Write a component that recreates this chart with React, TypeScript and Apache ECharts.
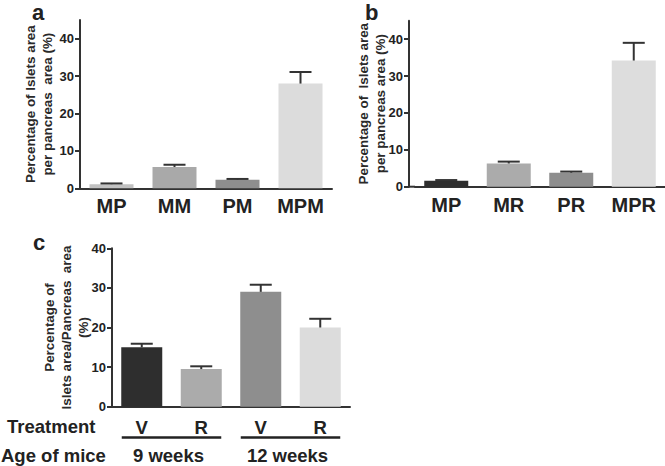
import React, { useEffect, useRef } from "react";
import * as echarts from "echarts";

const catsA = ["MP", "MM", "PM", "MPM"];
const valsA = [1.1, 5.7, 2.3, 28.0];
const errsA = [0.2, 0.6, 0.2, 3.1];

const catsB = ["MP", "MR", "PR", "MPR"];
const valsB = [1.6, 6.3, 3.8, 34.2];
const errsB = [0.2, 0.5, 0.3, 4.8];

const catsC = ["V", "R", "V", "R"];
const valsC = [15.0, 9.5, 29.0, 20.0];
const errsC = [0.9, 0.7, 1.8, 2.2];
const ageGroups = ["9 weeks", "12 weeks"];

const yTicks = [0, 10, 20, 30, 40];

const colorsA = ["#c2c2c2", "#a9a9a9", "#8e8e8e", "#dcdcdc"];
const colorsB = ["#2e2e2e", "#ababab", "#8e8e8e", "#dddddd"];
const colorsC = ["#2e2e2e", "#ababab", "#8e8e8e", "#dcdcdc"];

const FONT = "'Liberation Sans', Arial, Helvetica, sans-serif";
const TXT = "#222";
const AX = "#333";

function yAxis(gridIndex: number, max: number, name: string, nameGap: number, offset = 0) {
  return {
    gridIndex,
    type: "value",
    min: 0,
    max,
    interval: 10,
    offset,
    axisLine: { show: true, lineStyle: { color: AX, width: 2 } },
    axisTick: { show: true, length: 5, customValues: yTicks, lineStyle: { color: AX, width: 2 } },
    axisLabel: {
      customValues: yTicks,
      margin: 6,
      fontSize: 13,
      fontWeight: "bold",
      color: TXT,
      fontFamily: FONT,
    },
    splitLine: { show: false },
    name,
    nameLocation: "middle",
    nameGap,
    nameMoveOverlap: false,
    nameTextStyle: { fontSize: 13.4, fontWeight: "bold", lineHeight: 17, color: "#2a2a2a", fontFamily: FONT },
  };
}

function xAxis(gridIndex: number, data: string[], fontSize: number, margin: number) {
  return {
    gridIndex,
    type: "category",
    data,
    axisLine: { lineStyle: { color: AX, width: 2 } },
    axisTick: { alignWithLabel: true, length: 6, lineStyle: { color: AX, width: 2 } },
    axisLabel: { interval: 0, fontSize, fontWeight: "bold", color: TXT, fontFamily: FONT, margin },
  };
}

function bars(idx: number, vals: number[], colors: string[], barWidth: number) {
  return {
    type: "bar",
    xAxisIndex: idx,
    yAxisIndex: idx,
    barWidth,
    data: vals.map((v, i) => ({ value: v, itemStyle: { color: colors[i] } })),
    z: 2,
  };
}

function errs(idx: number, vals: number[], es: number[]) {
  return {
    type: "custom",
    xAxisIndex: idx,
    yAxisIndex: idx,
    z: 3,
    encode: { x: 0, y: 1 },
    data: vals.map((v, i) => [i, v, es[i]]),
    renderItem: (_p: any, api: any) => {
      const x = api.value(0);
      const v = api.value(1);
      const e = api.value(2);
      const top = api.coord([x, v]);
      const cap = api.coord([x, v + e]);
      const hw = 11;
      return {
        type: "group",
        children: [
          { type: "line", shape: { x1: top[0], y1: top[1], x2: cap[0], y2: cap[1] }, style: { stroke: AX, lineWidth: 2 } },
          { type: "line", shape: { x1: cap[0] - hw, y1: cap[1], x2: cap[0] + hw, y2: cap[1] }, style: { stroke: AX, lineWidth: 2 } },
        ],
      };
    },
  };
}

export default function App() {
  const ref = useRef<HTMLDivElement>(null);
  useEffect(() => {
    document.body.style.margin = "0";
    const chart = echarts.init(ref.current!, null, { renderer: "svg" });
    const grids = [
      { left: 80, top: 20, width: 252, height: 168.3 },
      { left: 415, top: 20.7, width: 250, height: 166 },
      { left: 112, top: 248.3, width: 238, height: 158.4 },
    ];
    chart.setOption({
      animation: false,
      grid: grids,
      xAxis: [xAxis(0, catsA, 20, 8), xAxis(1, catsB, 20, 8), xAxis(2, catsC, 18.5, 11)],
      yAxis: [
        yAxis(0, 45, "Percentage of Islets area\nper pancreas  area (%)", 24),
        yAxis(1, 45, "Percentage of  Islets area\nper pancreas area (%)", 20, 6),
        yAxis(2, 40, "Percentage of\nIslets area/Pancreas  area\n(%)", 20),
      ],
      series: [
        bars(0, valsA, colorsA, 44),
        errs(0, valsA, errsA),
        bars(1, valsB, colorsB, 44),
        errs(1, valsB, errsB),
        bars(2, valsC, colorsC, 41),
        errs(2, valsC, errsC),
      ],
    });

    const px = (i: number) => chart.convertToPixel({ xAxisIndex: 2 }, i) as number;
    const hb = 20;
    const lineY = 437.5;
    const ageY = 455.3;
    const groupGraphics: any[] = [];
    ageGroups.forEach((g, gi) => {
      const x1 = px(gi * 2) - hb;
      const x2 = px(gi * 2 + 1) + hb;
      groupGraphics.push({
        type: "line",
        shape: { x1, y1: lineY, x2, y2: lineY },
        style: { stroke: "#222", lineWidth: 2.5 },
      });
      groupGraphics.push({
        type: "text",
        x: (x1 + x2) / 2 - 3,
        y: ageY,
        style: { text: g, fontSize: 18.5, fontWeight: "bold", fill: TXT, fontFamily: FONT, align: "center", verticalAlign: "middle" },
      });
    });
    const bLeft = grids[1].left;
    const bBottom = grids[1].top + grids[1].height;
    const panelStyle = { fontSize: 22, lineHeight: 18, fontWeight: "bold", fill: TXT, fontFamily: FONT, verticalAlign: "middle" };

    chart.setOption({
      graphic: [
        { type: "text", x: 32, y: 12, style: { ...panelStyle, text: "a" } },
        { type: "text", x: 365, y: 12, style: { ...panelStyle, text: "b" } },
        { type: "text", x: 33, y: 242.4, style: { ...panelStyle, text: "c" } },
        { type: "text", x: 7, y: 426.7, style: { text: "Treatment", fontSize: 18.5, fontWeight: "bold", fill: TXT, fontFamily: FONT, verticalAlign: "middle" } },
        { type: "text", x: 1, y: ageY, style: { text: "Age of mice", fontSize: 18.5, fontWeight: "bold", fill: TXT, fontFamily: FONT, verticalAlign: "middle" } },
        { type: "line", shape: { x1: bLeft - 7, y1: bBottom, x2: bLeft, y2: bBottom }, style: { stroke: AX, lineWidth: 2 } },
        ...groupGraphics,
      ],
    });
    return () => chart.dispose();
  }, []);
  return <div ref={ref} style={{ width: 665, height: 466 }} />;
}
